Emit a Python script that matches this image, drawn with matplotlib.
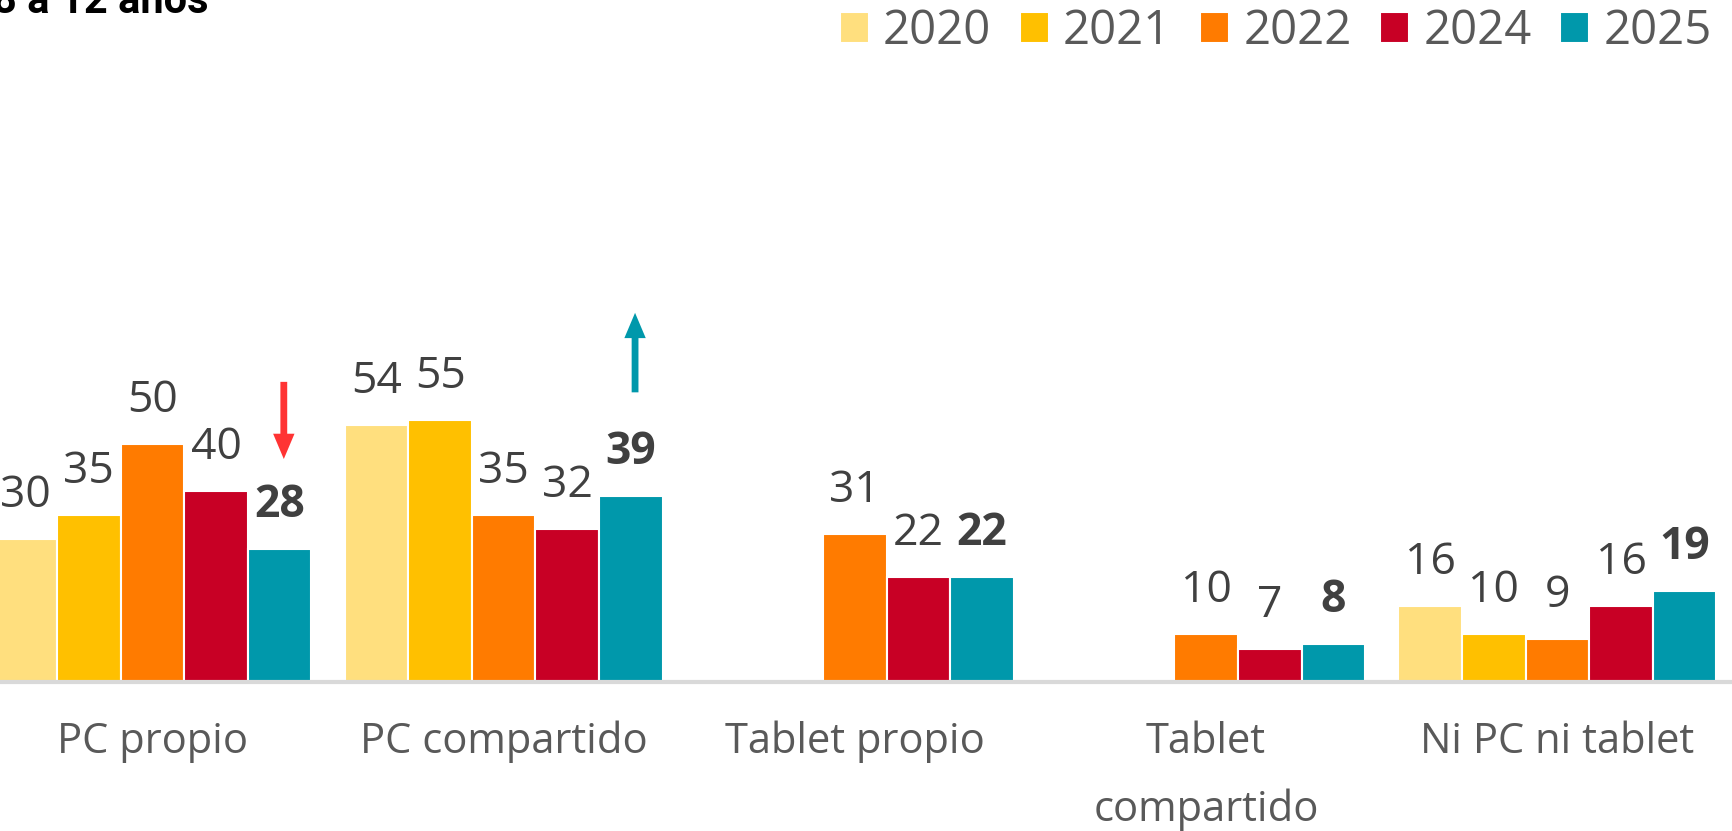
import numpy as np
import matplotlib
matplotlib.use('Agg')
import matplotlib.pyplot as plt

# Data
categories = ['PC propio', 'PC compartido', 'Tablet propio', 'Tablet\ncompartido', 'Ni PC ni tablet']
years = ['2020', '2021', '2022', '2024', '2025']
v2020 = [30, 54, np.nan, np.nan, 16]
v2021 = [35, 55, np.nan, np.nan, 10]
v2022 = [50, 35, 31, 10, 9]
v2024 = [40, 32, 22, 7, 16]
v2025 = [28, 39, 22, 8, 19]
series = [v2020, v2021, v2022, v2024, v2025]
colors = ['#FFDF7E', '#FFC000', '#FF7B00', '#C80025', '#0098AB']

plt.rcParams['font.family'] = ['Open Sans', 'DejaVu Sans']

fig = plt.figure(figsize=(17.32, 8.31), dpi=100)
ax = fig.add_axes([0, 0.1795, 1, 0.8205])

x = np.arange(len(categories))
w = 0.181
for j, (vals, col, yr) in enumerate(zip(series, colors, years)):
    pos = x + (j - 2) * w
    ax.bar(pos, vals, width=w, color=col, edgecolor='white', linewidth=1.5, label=yr)
    for p, v in zip(pos, vals):
        if np.isnan(v):
            continue
        ax.annotate(f'{v:.0f}', (p, v), xytext=(0, 21), textcoords='offset pixels',
                    ha='center', va='bottom', fontsize=32, color='#404040',
                    fontweight='bold' if yr == '2025' else 'normal')

# trend arrows over 2025 bars
x25 = x + 2 * w
arrow = 'simple,head_width=1.1,head_length=1.3,tail_width=0.35'
ax.annotate('', xy=(x25[0] + 0.012, v2025[0] + 18.8), xytext=(x25[0] + 0.012, v2025[0] + 35),
            arrowprops=dict(arrowstyle=arrow, color='#FF3333', lw=0, shrinkA=0, shrinkB=0,
                            mutation_scale=14))
ax.annotate('', xy=(x25[1] + 0.012, v2025[1] + 38.5), xytext=(x25[1] + 0.012, v2025[1] + 21.8),
            arrowprops=dict(arrowstyle=arrow, color='#0098AB', lw=0, shrinkA=0, shrinkB=0,
                            mutation_scale=14))

ax.set_xlim(-0.434, 4.497)
ax.set_ylim(0, 143.2)
for s in ['top', 'right', 'left']:
    ax.spines[s].set_visible(False)
ax.spines['bottom'].set_color('#D9D9D9')
ax.spines['bottom'].set_linewidth(3)
ax.set_yticks([])
ax.set_xticks(x)
ax.set_xticklabels(categories, fontsize=30, color='#595959', linespacing=1.8)
ax.tick_params(axis='x', length=0, pad=28)

leg = ax.legend(loc='upper right', bbox_to_anchor=(1.006, 1.034), ncol=5, frameon=False,
                fontsize=34, handlelength=0.62, handleheight=0.62, handletextpad=0.3,
                columnspacing=0.6, borderaxespad=0.25)
for t in leg.get_texts():
    t.set_color('#595959')

fig.text(-0.004, 0.984, '8 a 12 años', fontsize=30, fontweight='bold', color='black',
         family=['Roboto', 'DejaVu Sans'], va='baseline', ha='left')

fig.savefig('out.png', dpi=100)
